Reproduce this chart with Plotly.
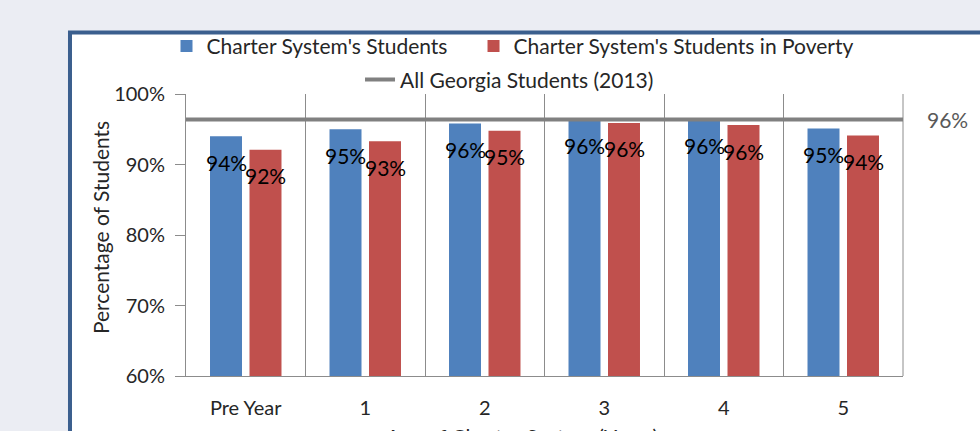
import plotly.graph_objects as go

# Attendance share by age of charter system
categories = ["Pre Year", "1", "2", "3", "4", "5"]
charter_students = [94.0, 95.0, 95.8, 96.4, 96.4, 95.1]
charter_poverty = [92.1, 93.3, 94.8, 95.9, 95.6, 94.1]
georgia_2013 = 96.4

y_ticks = [60, 70, 80, 90, 100]
y_tick_text = ["60%", "70%", "80%", "90%", "100%"]

BLUE = "#4F81BD"
RED = "#C0504D"
GRAY_LINE = "#808080"
AXIS_GRAY = "#8C8C8C"
FONT = "Lato, 'Open Sans', sans-serif"
TEXT = "#262626"

fig = go.Figure()

fig.add_trace(go.Bar(
    x=categories, y=charter_students, name="Charter System's Students",
    marker=dict(color=BLUE, line=dict(width=0)), legend="legend",
))
fig.add_trace(go.Bar(
    x=categories, y=charter_poverty, name="Charter System's Students in Poverty",
    marker=dict(color=RED, line=dict(width=0)), legend="legend3",
))
fig.add_trace(go.Scatter(
    x=[0, 1], y=[georgia_2013, georgia_2013], xaxis="x2", mode="lines",
    name="All Georgia Students (2013)",
    line=dict(color=GRAY_LINE, width=4), legend="legend2",
))

annotations = []
# value labels just inside the top of each bar
for cat, v in zip(categories, charter_students):
    annotations.append(dict(x=cat, y=v, xref="x", yref="y", text=f"{v:.0f}%",
                            showarrow=False, xshift=-19.75, yshift=-26,
                            xanchor="center", yanchor="middle",
                            font=dict(size=21, color="#000000", family=FONT)))
for cat, v in zip(categories, charter_poverty):
    annotations.append(dict(x=cat, y=v, xref="x", yref="y", text=f"{v:.0f}%",
                            showarrow=False, xshift=19.75, yshift=-26,
                            xanchor="center", yanchor="middle",
                            font=dict(size=21, color="#000000", family=FONT)))

# statewide reference value at the right of the line
annotations.append(dict(x=1.0307, y=georgia_2013, xref="paper", yref="y",
                        text=f"{georgia_2013:.0f}%", showarrow=False, xanchor="left",
                        yanchor="middle", font=dict(size=21, color="#595959", family=FONT)))

# axis titles
annotations.append(dict(x=-0.12, y=0.528, xref="paper", yref="paper",
                        text="Percentage of Students", textangle=-90, showarrow=False,
                        xanchor="center", yanchor="middle",
                        font=dict(size=21, color=TEXT, family=FONT)))
annotations.append(dict(x=0.4686, y=-0.162, xref="paper", yref="paper",
                        text="Age of Charter System (Years)", showarrow=False,
                        xanchor="center", yanchor="top",
                        font=dict(size=21, color=TEXT, family=FONT)))

shapes = [
    # white chart panel with dark blue frame
    dict(type="rect", xref="paper", yref="paper", x0=-0.1618, x1=1.3, y0=-0.6, y1=1.2183,
         fillcolor="white", line=dict(color="#3B5F8E", width=4), layer="below"),
    # right edge of plot area
    dict(type="line", xref="paper", yref="paper", x0=1, x1=1, y0=0, y1=1,
         line=dict(color=AXIS_GRAY, width=1), layer="below"),
]

legend_common = dict(orientation="h", yanchor="middle", xanchor="left",
                     bgcolor="rgba(0,0,0,0)",
                     font=dict(size=21, color=TEXT, family=FONT))

fig.update_layout(
    width=980, height=431,
    margin=dict(l=186, r=77, t=94, b=53),
    paper_bgcolor="#EBEDF3",
    plot_bgcolor="white",
    barmode="group",
    bargap=0.339,
    bargroupgap=0.19,
    font=dict(family=FONT, size=20, color=TEXT),
    xaxis=dict(
        type="category", range=[-0.5, 5.5], tickson="boundaries",
        showgrid=True, gridcolor=AXIS_GRAY, gridwidth=1,
        showline=True, linecolor=AXIS_GRAY, linewidth=1,
        ticks="", ticklabelstandoff=14,
        tickfont=dict(size=20, color=TEXT, family=FONT),
        fixedrange=True,
    ),
    xaxis2=dict(overlaying="x", range=[0, 1], visible=False, fixedrange=True),
    yaxis=dict(
        range=[60, 100], tickvals=y_ticks, ticktext=y_tick_text,
        showgrid=False, zeroline=False,
        showline=True, linecolor=AXIS_GRAY, linewidth=1,
        ticks="outside", ticklen=10, tickcolor=AXIS_GRAY, ticklabelstandoff=6,
        tickfont=dict(size=20, color=TEXT, family=FONT),
        fixedrange=True,
    ),
    legend=dict(x=-0.0272, y=1.169, **legend_common),
    legend3=dict(x=0.401, y=1.169, **legend_common),
    legend2=dict(x=0.2427, y=1.05, **legend_common),
    annotations=annotations,
    shapes=shapes,
    showlegend=True,
)

fig.write_html("out.html")
